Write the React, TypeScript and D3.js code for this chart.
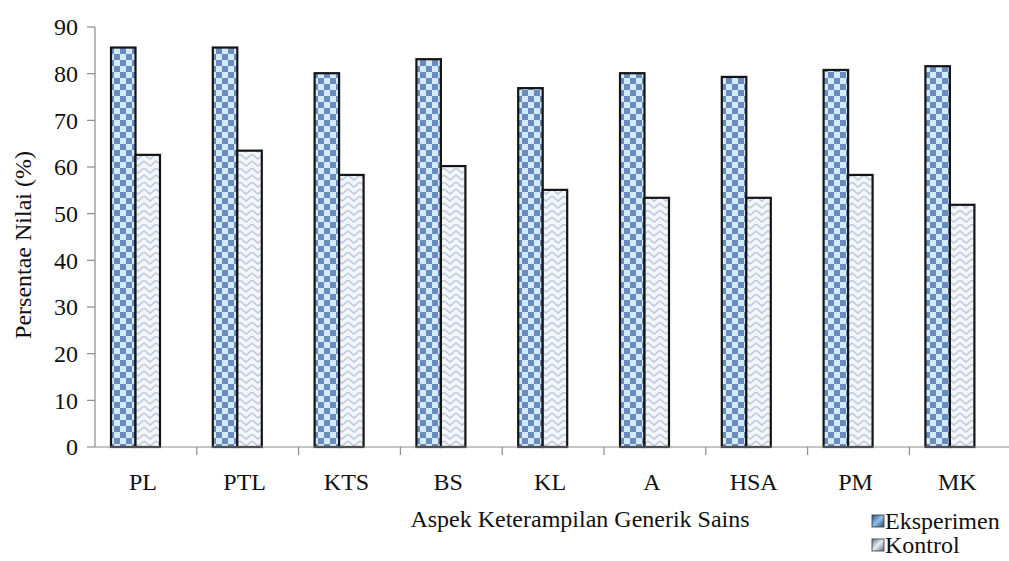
import React from "react";
import * as d3 from "d3";

const categories = ["PL", "PTL", "KTS", "BS", "KL", "A", "HSA", "PM", "MK"];
const eksperimen = [85.6, 85.6, 80.1, 83.1, 76.9, 80.1, 79.3, 80.8, 81.6];
const kontrol = [62.6, 63.5, 58.3, 60.2, 55.1, 53.4, 53.4, 58.3, 51.9];
const yTicks = [0, 10, 20, 30, 40, 50, 60, 70, 80, 90];
const seriesNames = ["Eksperimen", "Kontrol"];

const W = 1009;
const H = 561;
const left = 95;
const bandW = 101.8;
const top = 27;
const base = 447;
const font = "'Liberation Serif', 'Times New Roman', 'DejaVu Serif', serif";
const fs = 24;

export default function App() {
  const x = d3
    .scaleBand<string>()
    .domain(categories)
    .range([left, left + bandW * categories.length])
    .paddingInner(0)
    .paddingOuter(0);
  const xs = d3.scaleBand<string>().domain(seriesNames).range([16, 65]).padding(0);
  const y = d3.scaleLinear().domain([0, 90]).range([base, top]);

  const series = [
    { name: "Eksperimen", values: eksperimen, fill: "url(#chk)" },
    { name: "Kontrol", values: kontrol, fill: "url(#weave)" },
  ];

  const txt = { fontFamily: font, fontSize: fs, fill: "#111" } as React.CSSProperties;

  return (
    <svg
      width={W}
      height={H}
      style={{ position: "absolute", left: 0, top: 0, background: "#fff", fontFamily: font }}
    >
      <defs>
        <pattern id="chk" patternUnits="userSpaceOnUse" width={12} height={12}>
          <rect width={12} height={12} fill="#d3eafb" />
          <rect x={0} y={0} width={6} height={6} fill="#6a8bbd" />
          <rect x={6} y={6} width={6} height={6} fill="#6a8bbd" />
        </pattern>
        <pattern id="weave" patternUnits="userSpaceOnUse" width={12} height={14}>
          <rect width={12} height={14} fill="#f2f5fa" />
          <path d="M0,0 L6,5 L12,0 M0,7 L6,12 L12,7" stroke="#c0c9da" strokeWidth={1.6} fill="none" />
        </pattern>
        <linearGradient id="legE" x1="0" y1="0" x2="1" y2="1">
          <stop offset="0" stopColor="#2a4f8a" />
          <stop offset="0.5" stopColor="#8fbde8" />
          <stop offset="1" stopColor="#27477c" />
        </linearGradient>
        <linearGradient id="legK" x1="0" y1="0" x2="1" y2="1">
          <stop offset="0" stopColor="#6b7282" />
          <stop offset="0.5" stopColor="#e8edf5" />
          <stop offset="1" stopColor="#5f6675" />
        </linearGradient>
      </defs>

      {/* bars */}
      {series.map((s) =>
        categories.map((c, i) => {
          const bx = (x(c) as number) + (xs(s.name) as number);
          const by = y(s.values[i]);
          return (
            <rect
              key={s.name + c}
              x={bx}
              y={by}
              width={xs.bandwidth()}
              height={base - by}
              fill={s.fill}
              stroke="#141414"
              strokeWidth={2.2}
            />
          );
        })
      )}

      {/* y axis */}
      <line x1={left} x2={left} y1={top} y2={base} stroke="#8c8c8c" strokeWidth={1.2} />
      {yTicks.map((t) => (
        <g key={t}>
          <line x1={left - 8} x2={left} y1={y(t)} y2={y(t)} stroke="#8c8c8c" strokeWidth={1.2} />
          <text x={left - 17} y={y(t)} dy="0.35em" textAnchor="end" style={txt}>
            {t}
          </text>
        </g>
      ))}

      {/* x axis */}
      <line x1={left} x2={W} y1={base} y2={base} stroke="#8c8c8c" strokeWidth={1.2} />
      {categories.map((c) => (
        <line
          key={"t" + c}
          x1={(x(c) as number) + x.bandwidth()}
          x2={(x(c) as number) + x.bandwidth()}
          y1={base}
          y2={base + 8}
          stroke="#8c8c8c"
          strokeWidth={1.2}
        />
      ))}
      {categories.map((c) => (
        <text
          key={"l" + c}
          x={(x(c) as number) + x.bandwidth() / 2 - 3}
          y={490}
          textAnchor="middle"
          style={txt}
        >
          {c}
        </text>
      ))}

      {/* axis titles */}
      <text
        transform={`translate(31,${(top + base) / 2 + 8}) rotate(-90)`}
        textAnchor="middle"
        style={txt}
      >
        Persentae Nilai (%)
      </text>
      <text x={580} y={527} textAnchor="middle" style={txt}>
        Aspek Keterampilan Generik Sains
      </text>

      {/* legend */}
      {seriesNames.map((n, i) => (
        <g key={n} transform={`translate(872,${512 + i * 24})`}>
          <rect
            x={0}
            y={3}
            width={12}
            height={12}
            fill={i === 0 ? "url(#legE)" : "url(#legK)"}
            stroke="#333"
            strokeWidth={0.8}
          />
          <text x={13} y={17} style={txt}>
            {n}
          </text>
        </g>
      ))}
    </svg>
  );
}
